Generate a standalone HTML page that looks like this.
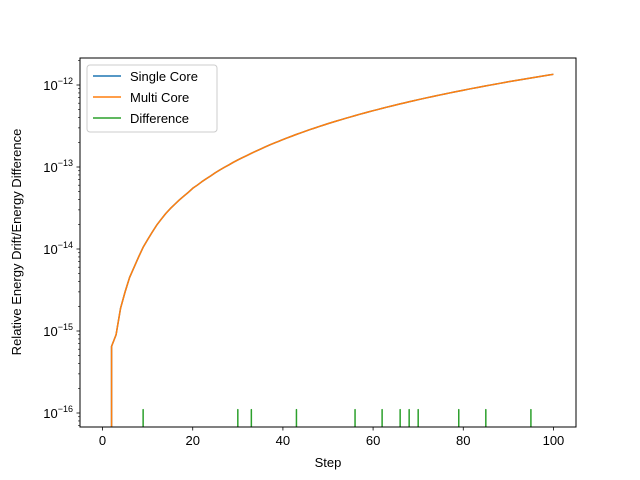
<!DOCTYPE html>
<html><head><meta charset="utf-8"><style>
html,body{margin:0;padding:0;background:#fff;width:640px;height:480px;overflow:hidden}
svg{display:block;font-family:"Liberation Sans","DejaVu Sans",sans-serif}
</style></head><body>
<svg id="chart" width="640" height="480" viewBox="0 0 640 480" overflow="hidden">
<defs><clipPath id="plotclip"><rect x="80" y="58" width="496" height="369"/></clipPath></defs>
<rect x="0" y="0" width="640" height="480" fill="#fff"/>
<g id="series" clip-path="url(#plotclip)"></g>
<g id="axes"></g>
<rect x="80" y="58" width="496" height="369" fill="none" stroke="#000" stroke-width="1"/>
<text x="328" y="467" font-size="13" text-anchor="middle">Step</text>
<text transform="translate(21,242) rotate(-90)" font-size="13" text-anchor="middle">Relative Energy Drift/Energy Difference</text>
<g>
<rect x="87" y="65" width="130" height="67" rx="3" fill="#fff" fill-opacity="0.8" stroke="#ccc"/>
<g><line x1="93" y1="76" x2="121" y2="76" stroke="#1f77b4" stroke-width="1.5"/><text x="130" y="81" font-size="13">Single Core</text></g>
<g><line x1="93" y1="97" x2="121" y2="97" stroke="#ff7f0e" stroke-width="1.5"/><text x="130" y="102" font-size="13">Multi Core</text></g>
<g><line x1="93" y1="118" x2="121" y2="118" stroke="#2ca02c" stroke-width="1.5"/><text x="130" y="123" font-size="13">Difference</text></g>
</g>
</svg>
<script>
const xTicks=[0,20,40,60,80,100];
const yTickExps=[-16,-15,-14,-13,-12];
// drift values in units of 1e-14, steps 0..100
const driftSingle=[0,0,0.065,0.09,0.19,0.30,0.45,0.6,0.8,1.05,1.3,1.6,1.95,2.3,2.7,3.1,3.5,3.95,4.4,4.9,5.5,6.0,6.6,7.2,7.8,8.5,9.2,9.9,10.6,11.4,12.2,13.0,13.8,14.7,15.6,16.5,17.5,18.5,19.5,20.5,21.6,22.7,23.8,25.0,26.1,27.3,28.6,29.8,31.1,32.4,33.8,35.1,36.5,37.9,39.4,40.8,42.3,43.9,45.4,47.0,48.6,50.2,51.9,53.6,55.3,57.0,58.8,60.6,62.4,64.3,66.2,68.1,70.0,71.9,73.9,75.9,78.0,80.0,82.1,84.3,86.4,88.6,90.8,93.0,95.3,97.5,99.8,102.2,104.5,106.9,109.4,111.8,114.3,116.8,119.3,121.8,124.4,127.0,129.7,132.3,135.0];
const driftMulti=driftSingle.slice();
const diffSteps=[9,30,33,43,56,62,66,68,70,79,85,95];
const diffValue=1.1e-16;

const NS="http://www.w3.org/2000/svg";
const BOTTOM=431;
const xs=v=>80+(v+5)/110*496;
const ys=v=>413-82*(Math.log10(v)+16);
const series=document.getElementById('series'), axes=document.getElementById('axes');
function mk(tag,attrs,parent){const e=document.createElementNS(NS,tag);for(const k in attrs)e.setAttribute(k,attrs[k]);parent.appendChild(e);return e;}

function pathFor(d){
  let s='', prevPos=false, prevX=0;
  d.forEach((v,i)=>{
    const x=xs(i);
    if(v>0){
      const y=ys(v);
      s+= prevPos ? ` L${x.toFixed(2)},${y.toFixed(2)}` : ` M${x.toFixed(2)},${BOTTOM} L${x.toFixed(2)},${y.toFixed(2)}`;
      prevPos=true;
    }else{
      if(prevPos) s+=` L${prevX.toFixed(2)},${BOTTOM}`;
      prevPos=false;
    }
    prevX=x;
  });
  return s.trim();
}

const single=driftSingle.map(v=>v*1e-14), multi=driftMulti.map(v=>v*1e-14);
const diff=single.map((_,i)=>diffSteps.includes(i)?diffValue:0);
[[single,'#1f77b4','line-single-core'],[multi,'#ff7f0e','line-multi-core'],[diff,'#2ca02c','line-difference']].forEach(([d,c,n])=>{
  const p=mk('path',{d:pathFor(d),fill:'none',stroke:c,'stroke-width':1.5,'stroke-linejoin':'round'},series);
  
  
});

xTicks.forEach(t=>{
  const x=xs(t);
  mk('line',{x1:x,y1:427,x2:x,y2:430.5,stroke:'#000','stroke-width':0.8},axes);
  const tx=mk('text',{x:x,y:445,'font-size':13,'text-anchor':'middle'},axes);
  tx.textContent=t;
  
  
});
yTickExps.forEach(e=>{
  const y=ys(Math.pow(10,e));
  mk('line',{x1:76.5,y1:y,x2:80,y2:y,stroke:'#000','stroke-width':0.8},axes);
  const tx=mk('text',{x:73,y:y+5,'font-size':13,'text-anchor':'end'},axes);
  
  
  const b=mk('tspan',{},tx);b.textContent='10';
  const s=mk('tspan',{dy:-6,'font-size':9},tx);s.textContent='\u2212'+(-e);
});
for(let e=-17;e<=-12;e++)for(let m=2;m<10;m++){
  const y=ys(m*Math.pow(10,e));
  if(y<58||y>427)continue;
  mk('line',{x1:78,y1:y,x2:80,y2:y,stroke:'#000','stroke-width':0.6},axes);
}
</script>
</body></html>
